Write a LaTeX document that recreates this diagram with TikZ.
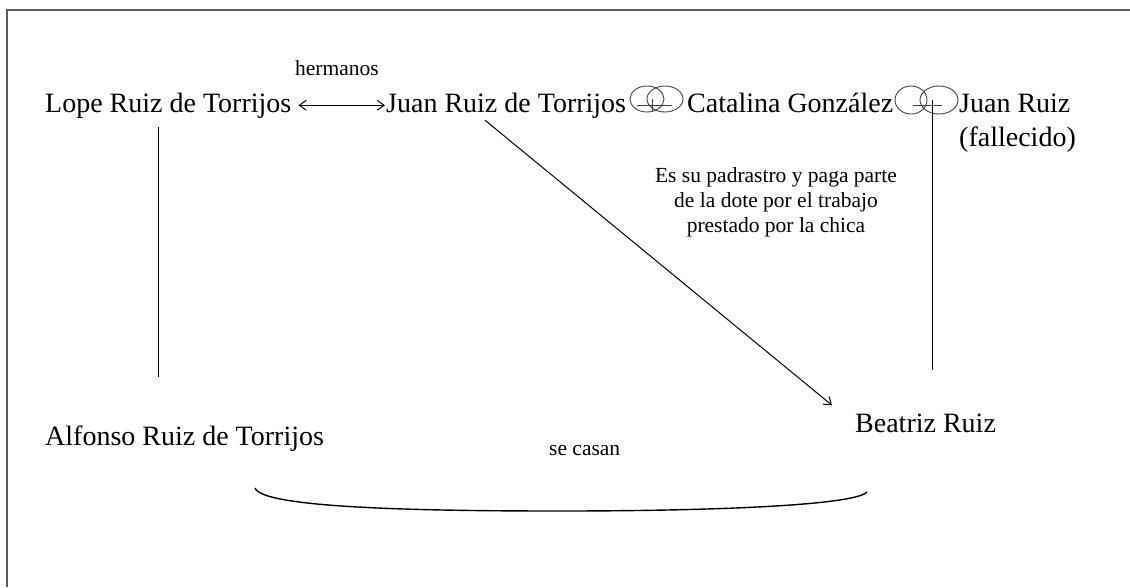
\documentclass[tikz,border=0pt]{standalone}
\usepackage{fontspec}
\setmainfont{Liberation Serif}
\usetikzlibrary{arrows.meta,calc}
\begin{document}
\begin{tikzpicture}[x=1pt,y=-1pt,
  big/.style={font=\fontsize{28}{30}\selectfont, inner sep=0pt, anchor=base west},
  small/.style={font=\fontsize{21.5}{25}\selectfont, inner sep=0pt},
  conn/.style={line width=1pt, black},
  barb/.tip={Straight Barb[length=7pt,width=10pt]},
  ring/.style={line width=0.9pt, black!75}]
\useasboundingbox (0,0) rectangle (1130,587);
\draw[black!65, line width=1.6pt] (7,587) -- (7,10) -- (1130,10);

\node[big] (lope) at (45,112) {Lope Ruiz de Torrijos};
\node[small, anchor=base west] (herm) at (295,75) {hermanos};
\node[big] (juan) at (386,112) {Juan Ruiz de Torrijos};
\node[big] (cat) at (687,112) {Catalina González};
\node[big] (jr) at (959,112) {Juan Ruiz};
\node[big] (fall) at (959,146) {(fallecido)};
\node[small, align=center, anchor=north] (note) at (776,167) {Es su padrastro y paga parte\\de la dote por el trabajo\\prestado por la chica};
\node[big] (alf) at (45,445) {Alfonso Ruiz de Torrijos};
\node[big] (bea) at (855,432) {Beatriz Ruiz};
\node[small, anchor=base west] (cas) at (549,455) {se casan};

% marriage rings
\coordinate (r1) at (652,105);
\draw[ring] (647,99) ellipse [x radius=17, y radius=13];
\draw[ring] (665,99) ellipse [x radius=18, y radius=13];
\draw[ring] ($(r1)+(-15,0)$) -- ($(r1)+(20,0)$);
\draw[ring] ($(r1)+(0,-6)$) -- ($(r1)+(0,6)$);

\coordinate (r2) at (932,105);
\draw[ring] (911,100) ellipse [x radius=16, y radius=14];
\draw[ring] (939,100) ellipse [x radius=19, y radius=14];
\draw[ring] ($(r2)+(-19,0)$) -- ($(r2)+(10,0)$);

% connectors
\draw[conn, barb-barb, shorten <=7pt, shorten >=1pt] (lope.east) -- (juan.west);
\draw[conn, -barb] ($(juan.south west)+(99,2)$) -- ($(bea.north west)+(-23,-8)$);
\coordinate (lx) at (158,0);
\draw[conn] ($(lope.south -| lx)+(0,9)$) -- ($(alf.north -| lx)+(0,-48)$);
\draw[conn] ($(r2)+(0,-5)$) -- ($(bea.north -| r2)+(0,-43)$);

\coordinate (c1) at (255,488);
\coordinate (c2) at (867,492);
\draw[line width=1.4pt] (c1) .. controls (262,508) and (420,511) .. (560,511) .. controls (720,511) and (855,505) .. (c2);
\end{tikzpicture}
\end{document}
